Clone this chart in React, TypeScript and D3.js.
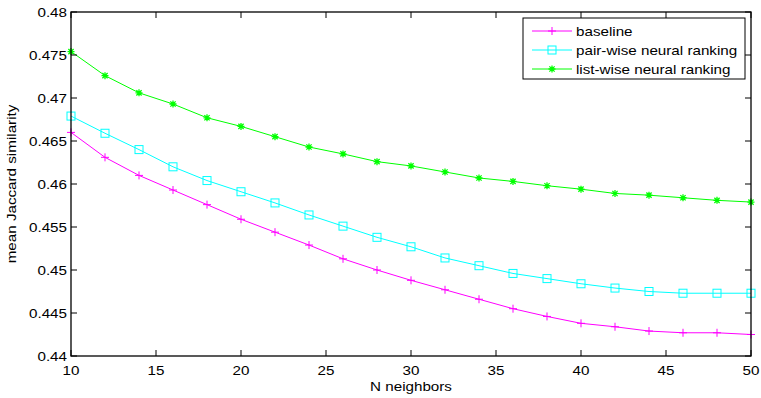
import * as d3 from "d3";

const neighbors = [10, 12, 14, 16, 18, 20, 22, 24, 26, 28, 30, 32, 34, 36, 38, 40, 42, 44, 46, 48, 50];
const baseline = [0.466, 0.4631, 0.461, 0.4593, 0.4576, 0.4559, 0.4544, 0.4529, 0.4513, 0.45, 0.4488, 0.4477, 0.4466, 0.4455, 0.4446, 0.4438, 0.4434, 0.4429, 0.4427, 0.4427, 0.4425];
const pairWise = [0.4679, 0.4659, 0.464, 0.462, 0.4604, 0.4591, 0.4578, 0.4564, 0.4551, 0.4538, 0.4527, 0.4514, 0.4505, 0.4496, 0.449, 0.4484, 0.4479, 0.4475, 0.4473, 0.4473, 0.4473];
const listWise = [0.4754, 0.4726, 0.4706, 0.4693, 0.4677, 0.4667, 0.4655, 0.4643, 0.4635, 0.4626, 0.4621, 0.4614, 0.4607, 0.4603, 0.4598, 0.4594, 0.4589, 0.4587, 0.4584, 0.4581, 0.4579];
const xTicks = [10, 15, 20, 25, 30, 35, 40, 45, 50];
const yTicks = [0.44, 0.445, 0.45, 0.455, 0.46, 0.465, 0.47, 0.475, 0.48];
const seriesNames = ["baseline", "pair-wise neural ranking", "list-wise neural ranking"];
const seriesColors = ["#ff00ff", "#00ffff", "#00ff00"];
const seriesMarkers = ["plus", "square", "star"];

const W = 761;
const H = 398;
const left = 71, right = 751, top = 12, bottom = 356;
const font = "'Liberation Sans', Arial, sans-serif";
const sx = 1.17;

function Marker({ type, x, y, color }: { type: string; x: number; y: number; color: string }) {
  if (type === "plus") {
    return (
      <path d={`M${x - 4},${y}H${x + 4}M${x},${y - 4}V${y + 4}`} stroke={color} strokeWidth={1} fill="none" />
    );
  }
  if (type === "square") {
    return <rect x={x - 4} y={y - 4} width={8} height={8} stroke={color} strokeWidth={1} fill="none" />;
  }
  const r = 3.5;
  const d = r * 0.75;
  return (
    <path
      d={`M${x - r},${y}H${x + r}M${x},${y - r}V${y + r}M${x - d},${y - d}L${x + d},${y + d}M${x - d},${y + d}L${x + d},${y - d}`}
      stroke={color}
      strokeWidth={1.3}
      fill="none"
    />
  );
}

export default function App() {
  const x = d3.scaleLinear().domain([10, 50]).range([left, right]);
  const y = d3.scaleLinear().domain([0.44, 0.48]).range([bottom, top]);
  const line = d3
    .line<number>()
    .x((_, i) => x(neighbors[i]))
    .y((d) => y(d));

  const series = [baseline, pairWise, listWise];

  return (
    <svg width={W} height={H} style={{ position: "absolute", left: 0, top: 0, background: "#fff" }} fontFamily={font}>
      <rect x={0} y={0} width={W} height={H} fill="#fff" />

      {series.map((s, k) => (
        <g key={k}>
          <path d={line(s) || ""} fill="none" stroke={seriesColors[k]} strokeWidth={1} />
          {s.map((v, i) => (
            <Marker key={i} type={seriesMarkers[k]} x={x(neighbors[i])} y={y(v)} color={seriesColors[k]} />
          ))}
        </g>
      ))}

      {/* ticks */}
      {xTicks.map((t) => (
        <g key={t}>
          <line x1={x(t)} x2={x(t)} y1={bottom} y2={bottom - 6} stroke="#000" strokeWidth={1} />
          <line x1={x(t)} x2={x(t)} y1={top} y2={top + 6} stroke="#000" strokeWidth={1} />
          <text
            transform={`translate(${x(t)},${bottom + 19}) scale(${sx},1)`}
            textAnchor="middle"
            fontSize={13}
            fill="#000"
          >
            {t}
          </text>
        </g>
      ))}
      {yTicks.map((t) => (
        <g key={t}>
          <line x1={left} x2={left + 6} y1={y(t)} y2={y(t)} stroke="#000" strokeWidth={1} />
          <line x1={right} x2={right - 6} y1={y(t)} y2={y(t)} stroke="#000" strokeWidth={1} />
          <text
            transform={`translate(${left - 4},${y(t) + 4.5}) scale(${sx},1)`}
            textAnchor="end"
            fontSize={13}
            fill="#000"
          >
            {d3.format("")(t)}
          </text>
        </g>
      ))}

      <rect x={left} y={top} width={right - left} height={bottom - top} fill="none" stroke="#000" strokeWidth={1.3} />

      <text transform={`translate(${(left + right) / 2},${391}) scale(${sx},1)`} textAnchor="middle" fontSize={13} fill="#000">
        N neighbors
      </text>
      <text
        transform={`translate(16,${(top + bottom) / 2}) rotate(-90) scale(${sx},1)`}
        textAnchor="middle"
        fontSize={13}
        fill="#000"
      >
        mean Jaccard similarity
      </text>

      {/* legend */}
      <rect x={523} y={18} width={222} height={61} fill="#fff" stroke="#000" strokeWidth={1} />
      {seriesNames.map((name, k) => {
        const ly = 31 + k * 19;
        return (
          <g key={name}>
            <line x1={532} x2={572} y1={ly} y2={ly} stroke={seriesColors[k]} strokeWidth={1} />
            <Marker type={seriesMarkers[k]} x={552} y={ly} color={seriesColors[k]} />
            <text transform={`translate(576,${ly + 4.5}) scale(${sx},1)`} fontSize={13} fill="#000">
              {name}
            </text>
          </g>
        );
      })}
    </svg>
  );
}
